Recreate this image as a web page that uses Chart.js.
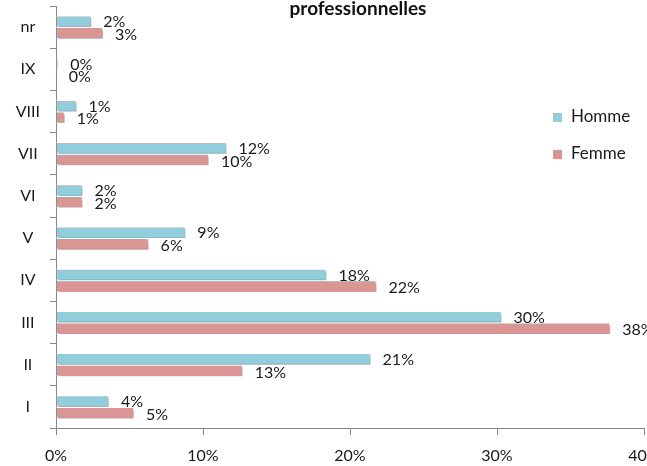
<!DOCTYPE html>
<html>
<head>
<meta charset="utf-8">
<script src="https://cdn.jsdelivr.net/npm/chart.js@4.4.1/dist/chart.umd.min.js"></script>
<style>
  html, body { margin: 0; padding: 0; background: #ffffff; overflow: hidden; }
  #wrap { position: relative; width: 647px; height: 466px; }
</style>
</head>
<body>
<div id="wrap"><canvas id="c" width="647" height="466"></canvas></div>
<script>
const categories = ['nr', 'IX', 'VIII', 'VII', 'VI', 'V', 'IV', 'III', 'II', 'I'];
const homme = [2.4, 0.15, 1.4, 11.6, 1.8, 8.8, 18.4, 30.3, 21.4, 3.6];
const femme = [3.2, 0.05, 0.6, 10.4, 1.8, 6.3, 21.8, 37.7, 12.7, 5.3];
const seriesNames = ['Homme', 'Femme'];
const xTicks = [0, 10, 20, 30, 40];
const titleText = 'professionnelles';

const colHomme = '#92CDDC';
const colFemme = '#D99694';
const FONT = 'Lato, "Liberation Sans", sans-serif';

const shadowPlugin = {
  id: 'shadow',
  beforeDatasetsDraw(chart) {
    const ctx = chart.ctx;
    ctx.save();
    ctx.shadowColor = 'rgba(0,0,0,0.35)';
    ctx.shadowBlur = 2;
    ctx.shadowOffsetX = 1.5;
    ctx.shadowOffsetY = 2;
  },
  afterDatasetsDraw(chart) {
    chart.ctx.restore();
  }
};

const labelPlugin = {
  id: 'labels',
  afterDatasetsDraw(chart) {
    const ctx = chart.ctx;
    ctx.save();
    ctx.font = '16px ' + FONT;
    ctx.fillStyle = '#1a1a1a';
    ctx.textAlign = 'left';
    ctx.textBaseline = 'middle';
    chart.data.datasets.forEach((ds, di) => {
      const meta = chart.getDatasetMeta(di);
      meta.data.forEach((bar, i) => {
        const v = ds.data[i];
        const txt = Math.round(v) + '%';
        ctx.fillText(txt, bar.x + 12, bar.y + (di === 0 ? 1 : 2));
      });
    });
    ctx.restore();
  }
};

const decorPlugin = {
  id: 'decor',
  afterDraw(chart) {
    const ctx = chart.ctx;
    ctx.save();
    ctx.font = 'bold 19px ' + FONT;
    ctx.fillStyle = '#111';
    ctx.textAlign = 'center';
    ctx.textBaseline = 'alphabetic';
    ctx.fillText(titleText, 358, 15);
    ctx.font = '17px ' + FONT;
    ctx.textAlign = 'left';
    ctx.textBaseline = 'middle';
    const cols = [colHomme, colFemme];
    const ys = [117, 154];
    seriesNames.forEach((n, i) => {
      ctx.fillStyle = cols[i];
      ctx.fillRect(553, ys[i] - 4, 9, 9);
      ctx.fillStyle = '#1a1a1a';
      ctx.fillText(n, 571, ys[i]);
    });
    ctx.restore();
  }
};

new Chart(document.getElementById('c'), {
  type: 'bar',
  data: {
    labels: categories,
    datasets: [
      { label: seriesNames[0], data: homme, backgroundColor: colHomme, borderColor: '#ffffff', borderWidth: 1 },
      { label: seriesNames[1], data: femme, backgroundColor: colFemme, borderColor: '#ffffff', borderWidth: 1 }
    ]
  },
  options: {
    indexAxis: 'y',
    responsive: false,
    animation: false,
    devicePixelRatio: 1,
    layout: { padding: { top: 6, right: 3, left: 0, bottom: 0 } },
    datasets: { bar: { barPercentage: 1.0, categoryPercentage: 0.55 } },
    plugins: { legend: { display: false }, tooltip: { enabled: false }, title: { display: false } },
    scales: {
      x: {
        min: 0, max: 40,
        afterBuildTicks(scale) { scale.ticks = xTicks.map(v => ({ value: v })); },
        afterFit(scale) { scale.height = 38; scale.paddingLeft = 0; scale.paddingRight = 0; },
        grid: { drawOnChartArea: false, drawTicks: true, tickLength: 7, color: '#868686' },
        border: { color: '#868686', width: 1 },
        ticks: { padding: 11, color: '#1a1a1a', font: { family: FONT, size: 16 }, callback: v => v + '%' }
      },
      y: {
        afterFit(scale) { scale.width = 56; scale.paddingTop = 0; scale.paddingBottom = 0; },
        grid: { offset: true, drawOnChartArea: false, drawTicks: true, tickLength: 6, color: '#868686' },
        border: { color: '#868686', width: 1 },
        ticks: { crossAlign: 'center', padding: 10, color: '#1a1a1a', font: { family: FONT, size: 16 } }
      }
    }
  },
  plugins: [shadowPlugin, labelPlugin, decorPlugin]
});
</script>
</body>
</html>
